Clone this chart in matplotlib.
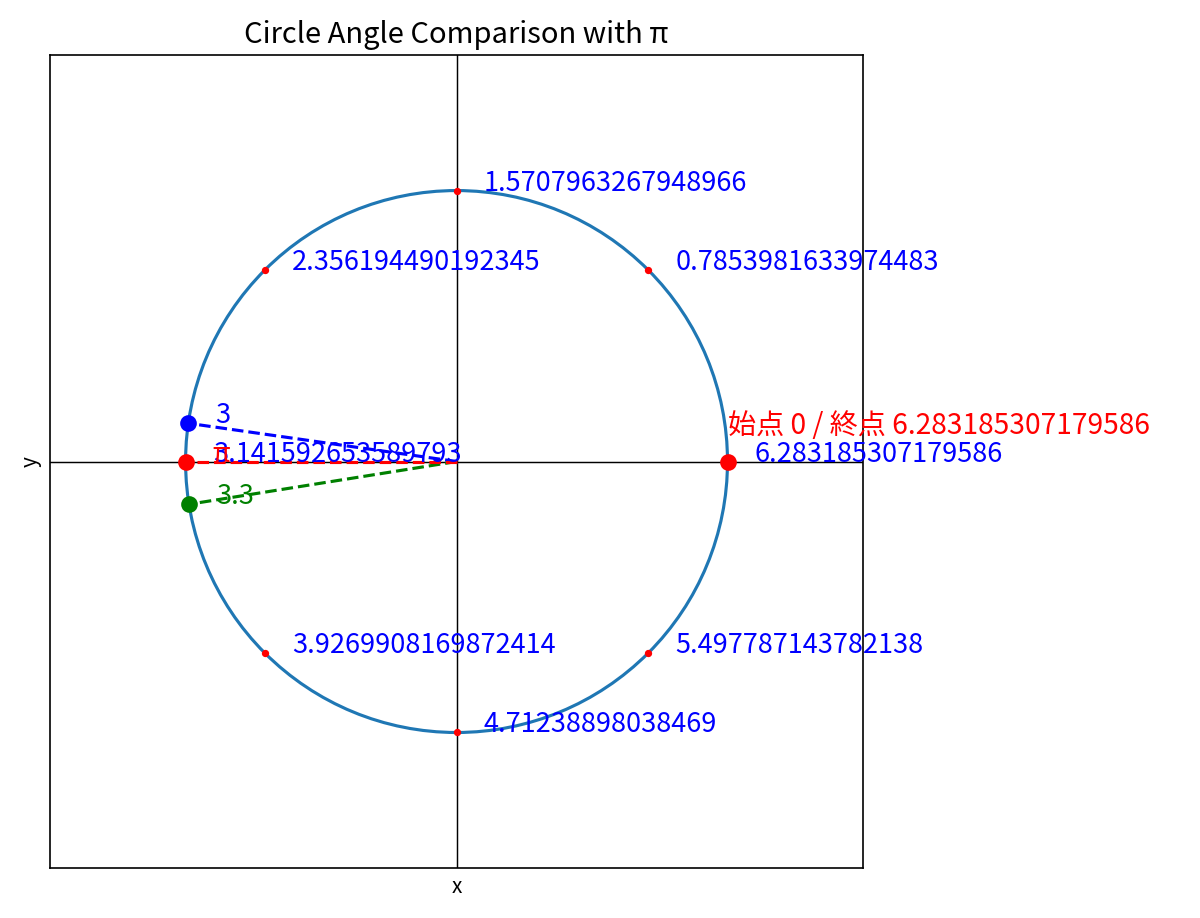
import numpy as np
import matplotlib.pyplot as plt

plt.rcParams['font.family'] = ['Noto Sans CJK JP', 'DejaVu Sans']

# angles marked around the circle (radians)
mark_angles = [0.7853981633974483, 1.5707963267948966, 2.356194490192345,
               3.141592653589793, 3.9269908169872414, 4.71238898038469,
               5.497787143782138, 6.283185307179586]
# angles compared with pi
cmp_angles = [3, 3.3]
cmp_labels = ['3', '3.3']
cmp_colors = ['blue', 'green']
pi_value = np.pi
start_text = '始点 0 / 終点 6.283185307179586'

fig = plt.figure(figsize=(8, 6.12), dpi=150)
ax = fig.add_axes([0.0417, 0.0545, 0.6775, 0.8855])

ax.add_patch(plt.Circle((0, 0), 1, fill=False, color='C0', lw=1.5))
ax.axhline(0, color='black', lw=0.7)
ax.axvline(0, color='black', lw=0.7)

for a in mark_angles:
    x, y = np.cos(a), np.sin(a)
    ax.plot(x, y, 'o', color='red', markersize=2.5)
    ax.text(x + 0.1, y, str(a), color='blue', fontsize=13)

# start / end point
ax.plot(1, 0, 'o', color='red', markersize=7)
ax.text(1.0, 0.1, start_text, color='red', fontsize=13.5)

for a, lab, c in zip(cmp_angles, cmp_labels, cmp_colors):
    x, y = np.cos(a), np.sin(a)
    ax.plot([0, x], [0, y], '--', color=c)
    ax.plot(x, y, 'o', color=c, markersize=7)
    ax.text(x + 0.1, y, lab, color=c, fontsize=13)

px, py = np.cos(pi_value), np.sin(pi_value)
ax.plot([0, px], [0, py], '--', color='red')
ax.plot(px, py, 'o', color='red', markersize=7)
ax.text(px + 0.1, py, 'π', color='red', fontsize=13)

ax.set_xlim(-1.5, 1.5)
ax.set_ylim(-1.5, 1.5)
ax.set_aspect('equal')
ax.set_xticks([])
ax.set_yticks([])
ax.set_xlabel('x')
ax.set_ylabel('y')
ax.set_title('Circle Angle Comparison with π', fontsize=14)

fig.savefig('out.png', dpi=150)
